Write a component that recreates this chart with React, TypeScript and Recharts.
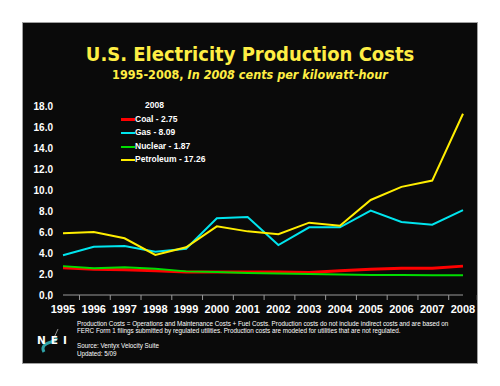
import { LineChart, Line, XAxis, YAxis } from 'recharts'

// ---------------------------------------------------------------------------
// Data (2008 cents per kWh)
// ---------------------------------------------------------------------------

const years = ['1995', '1996', '1997', '1998', '1999', '2000', '2001', '2002', '2003', '2004', '2005', '2006', '2007', '2008']
const coal = [2.6, 2.45, 2.4, 2.3, 2.2, 2.2, 2.2, 2.2, 2.15, 2.3, 2.45, 2.55, 2.55, 2.75]
const gas = [3.78, 4.6, 4.67, 4.13, 4.41, 7.3, 7.43, 4.76, 6.45, 6.45, 8.03, 6.95, 6.7, 8.09]
const nuclear = [2.75, 2.55, 2.65, 2.5, 2.25, 2.2, 2.1, 2.05, 2.0, 1.95, 1.9, 1.9, 1.88, 1.87]
const petroleum = [5.87, 6.0, 5.4, 3.81, 4.54, 6.54, 6.06, 5.78, 6.89, 6.6, 9.05, 10.3, 10.9, 17.26]
const yTicks = [0, 2, 4, 6, 8, 10, 12, 14, 16, 18]

const series = [
  { key: 'coal', label: 'Coal', values: coal, color: '#ff0000', width: 3 },
  { key: 'gas', label: 'Gas', values: gas, color: '#00e5ee', width: 2 },
  { key: 'nuclear', label: 'Nuclear', values: nuclear, color: '#00dd00', width: 2 },
  { key: 'petroleum', label: 'Petroleum', values: petroleum, color: '#ffee00', width: 2 },
]

const data = years.map((year, i) => {
  const row: Record<string, string | number> = { year }
  series.forEach((s) => (row[s.key] = s.values[i]))
  return row
})

const W = 500
const H = 386
const PLOT_LEFT = 63
const PLOT_RIGHT = 463
const BAND = (PLOT_RIGHT - PLOT_LEFT) / years.length
const BOLD = '"Liberation Sans", Arial, sans-serif'
const TITLE = '"DejaVu Sans Condensed", "DejaVu Sans", sans-serif'

// x tick: label plus a short mark on the band boundary
function YearTick({ x, y, payload, index }: any) {
  const left = x - BAND / 2
  return (
    <g>
      <line x1={left} y1={y - 8} x2={left} y2={y - 3} stroke="#999" />
      {index === years.length - 1 && (
        <line x1={x + BAND / 2} y1={y - 8} x2={x + BAND / 2} y2={y - 3} stroke="#999" />
      )}
      <text x={x} y={y + 10} textAnchor="middle" fill="#fff" fontSize={11} fontWeight="bold" fontFamily={BOLD}>
        {payload.value}
      </text>
    </g>
  )
}

function LegendBox() {
  return (
    <div
      style={{
        position: 'absolute',
        left: 121,
        top: 99,
        fontFamily: BOLD,
        fontWeight: 'bold',
        fontSize: 8.5,
        color: '#fff',
        lineHeight: '13.6px',
      }}
    >
      <div style={{ marginLeft: 24 }}>2008</div>
      {series.map((s) => (
        <div key={s.key} style={{ display: 'flex', alignItems: 'center', height: 13.6 }}>
          <span style={{ width: 14, height: s.width === 3 ? 3 : 2, background: s.color, display: 'inline-block' }} />
          <span>{`${s.label} - ${s.values[s.values.length - 1].toFixed(2)}`}</span>
        </div>
      ))}
    </div>
  )
}

export default function App() {
  return (
    <div style={{ position: 'absolute', left: 0, top: 0, width: W, height: H, background: '#fff', overflow: 'hidden' }}>
      {/* black slide panel */}
      <div
        style={{
          position: 'absolute',
          left: 22,
          top: 22,
          width: 454,
          height: 340,
          background: '#0a0a0a',
          border: '1px solid #a0a0a0',
        }}
      />

      {/* titles */}
      <div
        style={{
          position: 'absolute',
          left: 0,
          width: W,
          top: 42,
          textAlign: 'center',
          color: '#ffee44',
          fontFamily: TITLE,
          fontStretch: 'condensed',
          fontWeight: 'bold',
          fontSize: 20,
        }}
      >
        U.S. Electricity Production Costs
      </div>
      <div
        style={{
          position: 'absolute',
          left: 0,
          width: W,
          top: 67,
          textAlign: 'center',
          color: '#ffee44',
          fontFamily: TITLE,
          fontStretch: 'condensed',
          fontWeight: 'bold',
          fontSize: 12.5,
        }}
      >
        1995-2008, <i>In 2008 cents per kilowatt-hour</i>
      </div>

      <div style={{ position: 'absolute', left: 0, top: 0 }}>
        <LineChart width={W} height={H} data={data} margin={{ top: 106, right: W - PLOT_RIGHT, bottom: 61, left: 23 }}>
          <XAxis
            dataKey="year"
            height={30}
            stroke="#999"
            tickLine={false}
            interval={0}
            tick={<YearTick />}
          />
          <YAxis
            width={40}
            domain={[0, 18]}
            ticks={yTicks}
            interval={0}
            axisLine={false}
            tickLine={false}
            tickMargin={4}
            tickFormatter={(v: number) => v.toFixed(1)}
            tick={{ fill: '#fff', fontSize: 10, fontWeight: 'bold', fontFamily: BOLD }}
          />
          {series.map((s) => (
            <Line
              key={s.key}
              dataKey={s.key}
              stroke={s.color}
              strokeWidth={s.width}
              dot={false}
              isAnimationActive={false}
            />
          ))}
        </LineChart>
      </div>

      <LegendBox />

      {/* footnotes */}
      <div
        style={{
          position: 'absolute',
          left: 77,
          top: 319.5,
          width: 395,
          color: '#fff',
          fontFamily: '"Liberation Sans", Arial, sans-serif',
          fontSize: 6.3,
          lineHeight: '7.6px',
        }}
      >
        <div>
          Production Costs = Operations and Maintenance Costs + Fuel Costs. Production costs do not include indirect costs and are based on
        </div>
        <div>FERC Form 1 filings submitted by regulated utilities. Production costs are modeled for utilities that are not regulated.</div>
        <div style={{ marginTop: 7.6 }}>Source: Ventyx Velocity Suite</div>
        <div>Updated: 5/09</div>
      </div>

      {/* NEI logo */}
      <svg style={{ position: 'absolute', left: 34, top: 325 }} width={40} height={30}>
        <path d="M 10 27 Q 6 20 17 17 Q 21 16 23 13" stroke="#2fa3a8" strokeWidth={3} fill="none" />
        <path d="M 19 15 L 24 4" stroke="#ccc" strokeWidth={0.7} fill="none" />
        <text x={3} y={19} fill="#fff" fontSize={10.5} fontWeight="bold" fontFamily="'DejaVu Sans', sans-serif" letterSpacing={5}>
          NEI
        </text>
      </svg>
    </div>
  )
}
